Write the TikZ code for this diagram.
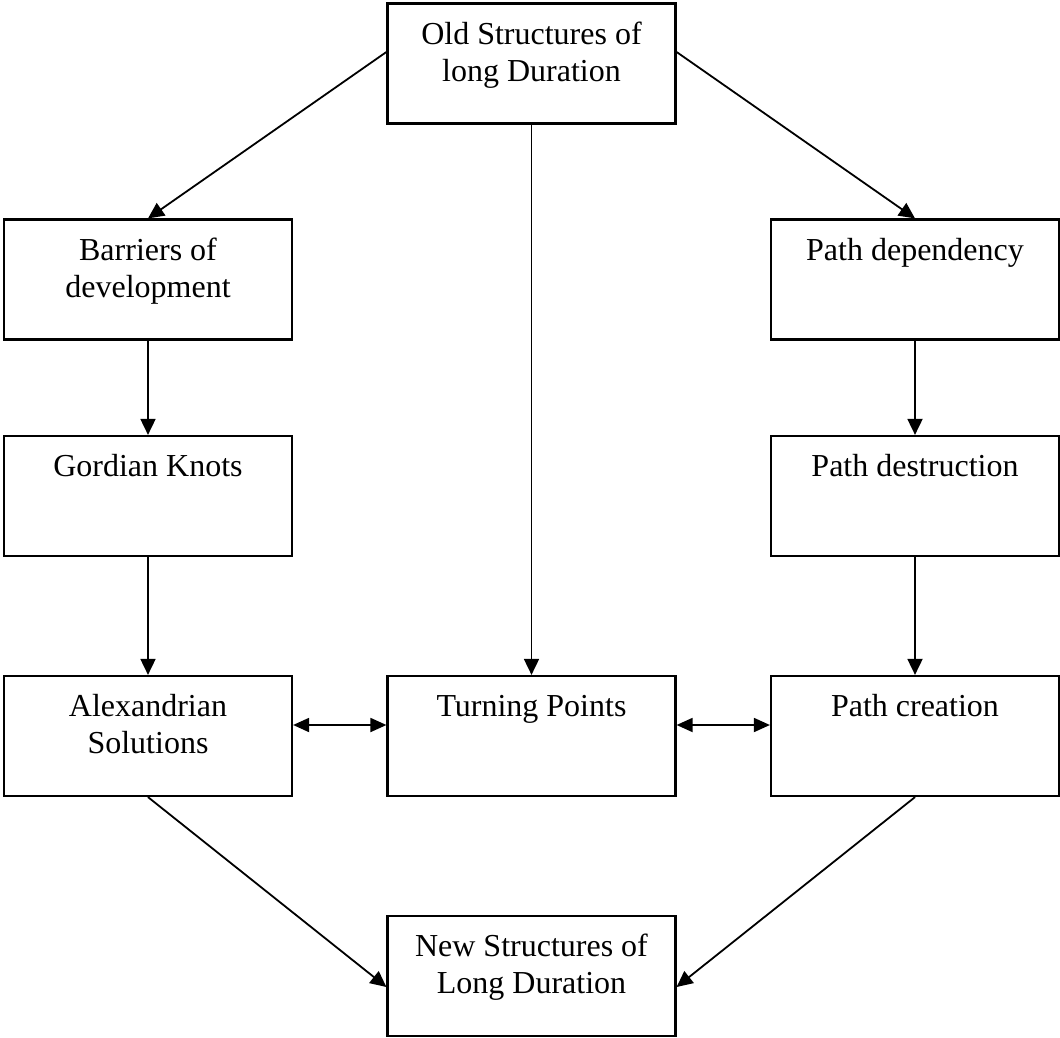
\documentclass[tikz,border=0pt]{standalone}
\usepackage{fontspec}
\setmainfont{Liberation Serif}
\usetikzlibrary{arrows.meta}
\newcommand{\boxtxt}[1]{\begin{minipage}[c][120pt][t]{288pt}\centering\fontsize{32}{37}\selectfont\vspace*{15pt}\strut #1\end{minipage}}
\begin{document}
\begin{tikzpicture}[x=1pt,y=-1pt,
  box/.style={draw, line width=2.2pt, inner sep=0pt, minimum width=288pt, minimum height=120pt},
  conn/.style={line width=1.8pt, -{Triangle[length=16pt,width=15pt]}},
  dconn/.style={line width=1.8pt, {Triangle[length=16pt,width=14pt]}-{Triangle[length=16pt,width=14pt]}}]
\useasboundingbox (0,0) rectangle (1060,1038);
\node[box] (old)  at (531.5,63.5) {\boxtxt{Old Structures of\\long Duration}};
\node[box] (bar)  at (148,279.5)  {\boxtxt{Barriers of\\development}};
\node[box] (pdep) at (915,279.5)  {\boxtxt{Path dependency}};
\node[box] (gord) at (148,496)    {\boxtxt{Gordian Knots}};
\node[box] (pdes) at (915,496)    {\boxtxt{Path destruction}};
\node[box] (alex) at (148,736)    {\boxtxt{Alexandrian\\Solutions}};
\node[box] (turn) at (531.5,736)  {\boxtxt{Turning Points}};
\node[box] (pcre) at (915,736)    {\boxtxt{Path creation}};
\node[box] (new)  at (531.5,976)  {\boxtxt{New Structures of\\Long Duration}};
\draw[conn] ([yshift=11.5pt]old.west) -- (bar.north);
\draw[conn] ([yshift=11.5pt]old.east) -- (pdep.north);
\draw[conn] (old.south) -- (turn.north);
\draw[conn] (bar.south) -- (gord.north);
\draw[conn] (gord.south) -- (alex.north);
\draw[conn] (pdep.south) -- (pdes.north);
\draw[conn] (pdes.south) -- (pcre.north);
\draw[dconn] ([yshift=11pt]alex.east) -- ([yshift=11pt]turn.west);
\draw[dconn] ([yshift=11pt]turn.east) -- ([yshift=11pt]pcre.west);
\draw[conn] (alex.south) -- ([yshift=-11pt]new.west);
\draw[conn] (pcre.south) -- ([yshift=-11pt]new.east);
\end{tikzpicture}
\end{document}
